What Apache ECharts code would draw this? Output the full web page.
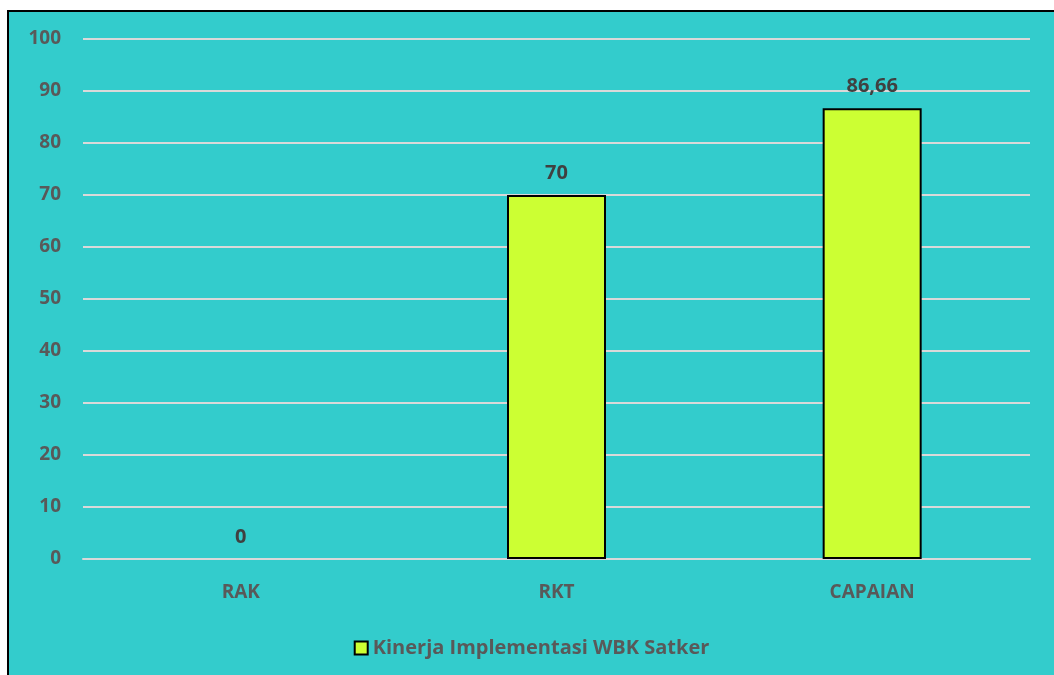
<!DOCTYPE html>
<html>
<head>
<meta charset="utf-8">
<script src="https://cdn.jsdelivr.net/npm/echarts@6/dist/echarts.min.js"></script>
<style>
html,body{margin:0;padding:0;background:#fff;width:1054px;height:675px;overflow:hidden;}
#chart{position:absolute;left:7px;top:10px;width:1047px;height:665px;box-sizing:border-box;border-left:2px solid #000;border-top:2px solid #000;}
</style>
</head>
<body>
<div id="chart"></div>
<script>
var categories = ['RAK', 'RKT', 'CAPAIAN'];
var seriesName = 'Kinerja Implementasi WBK Satker';
var values = [0, 70, 86.66];
var labels = ['0', '70', '86,66'];

var chart = echarts.init(document.getElementById('chart'));
var font = '"Open Sans", "Liberation Sans", sans-serif';
chart.setOption({
  backgroundColor: '#33CCCC',
  textStyle: {fontFamily: font},
  grid: {left: 74, right: 24, top: 27, bottom: 116},
  legend: {
    bottom: 12, left: 'center',
    itemWidth: 13, itemHeight: 13, itemGap: 6,
    icon: 'rect',
    textStyle: {color: '#595959', fontSize: 20, fontWeight: 'bold', fontFamily: font},
    data: [seriesName]
  },
  xAxis: {
    type: 'category', data: categories,
    axisLine: {show: true, lineStyle: {color: '#D9D9D9', width: 2}},
    axisTick: {show: false},
    axisLabel: {color: '#595959', fontSize: 19, fontWeight: 'bold', margin: 24}
  },
  yAxis: {
    type: 'value', min: 0, max: 100, interval: 10,
    axisLine: {show: false}, axisTick: {show: false},
    splitLine: {lineStyle: {color: '#D9D9D9', width: 2}},
    axisLabel: {color: '#595959', fontSize: 19, fontWeight: 'bold', margin: 22}
  },
  series: [{
    name: seriesName, type: 'bar', barWidth: 99,
    data: values.map(function (v) {
      return v === 0 ? {value: v, itemStyle: {borderWidth: 0}} : v;
    }),
    itemStyle: {color: '#CCFF33', borderColor: '#000', borderWidth: 2},
    label: {
      show: true, position: 'top', distance: 12,
      color: '#404040', fontSize: 20, fontWeight: 'bold',
      formatter: function (p) { return labels[p.dataIndex]; }
    }
  }]
});
</script>
</body>
</html>
